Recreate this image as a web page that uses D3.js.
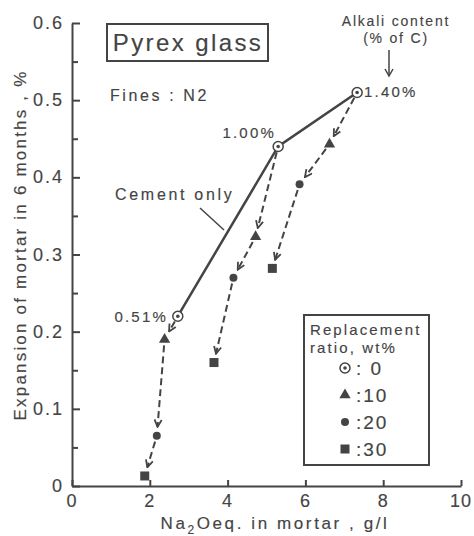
<!DOCTYPE html>
<meta charset="utf-8">
<style>
body { margin:0; background:#fff; }
svg text { font-family:"Liberation Sans", Arial, sans-serif; fill:#444; stroke:#444; stroke-width:0.15; }
.axis path, .axis line { stroke:#444; stroke-width:2; fill:none; }
</style>
<body>
<script src="https://d3js.org/d3.v7.min.js"></script>
<script>

var width = 474,
    height = 536;

// cement only points (alkali content % of C)
var cementX = [2.72, 5.3, 7.33];
var cementY = [0.22, 0.44, 0.51];
var cementLabels = ["0.51%", "1.00%", "1.40%"];

// replacement series, one chain per cement point: 10, 20, 30 wt%
var ratios = [10, 20, 30];
var replX = [[2.38, 2.18, 1.87], [4.72, 4.15, 3.65], [6.62, 5.85, 5.15]];
var replY = [[0.19, 0.065, 0.013], [0.323, 0.27, 0.16], [0.443, 0.391, 0.282]];

var xTicks = [0, 2, 4, 6, 8, 10];
var yTicks = [0, 0.1, 0.2, 0.3, 0.4, 0.5, 0.6];
var yMinor = [0.05, 0.15, 0.25, 0.35, 0.45, 0.55];

var x = d3.scaleLinear().domain([0, 10]).range([72, 461]);
var y = d3.scaleLinear().domain([0, 0.6]).range([486, 23]);

var svg = d3.select("body").append("svg")
    .attr("width", width)
    .attr("height", height);

var ink = "#444";

// axes
svg.append("g").attr("class", "axis")
    .attr("transform", "translate(0," + y(0) + ")")
    .call(d3.axisTop(x).tickValues(xTicks).tickSize(6).tickSizeOuter(0).tickFormat(""));
svg.append("g").attr("class", "axis")
    .attr("transform", "translate(" + x(0) + ",0)")
    .call(d3.axisRight(y).tickValues(yTicks).tickSize(8).tickSizeOuter(0).tickFormat(""));
svg.append("g").attr("class", "axis")
    .attr("transform", "translate(" + x(0) + ",0)")
    .call(d3.axisRight(y).tickValues(yMinor).tickSize(6).tickSizeOuter(0).tickFormat(""))
    .select(".domain").remove();

svg.selectAll(".xlab").data(xTicks).enter().append("text")
    .attr("x", function(d){ return x(d); })
    .attr("y", 507)
    .attr("text-anchor", "middle")
    .attr("font-size", 18)
    .attr("letter-spacing", 1)
    .text(function(d){ return d; });

svg.selectAll(".ylab").data(yTicks).enter().append("text")
    .attr("x", 64)
    .attr("y", function(d){ return y(d) + 6; })
    .attr("text-anchor", "end")
    .attr("font-size", 18)
    .attr("letter-spacing", 2)
    .text(function(d){ return d === 0 ? "0" : d.toFixed(1); });

// axis titles
var xt = svg.append("text")
    .attr("x", 275).attr("y", 529)
    .attr("text-anchor", "middle")
    .attr("font-size", 17)
    .attr("letter-spacing", 2.6);
xt.append("tspan").text("Na");
xt.append("tspan").attr("font-size", 12).attr("dy", 5).text("2");
xt.append("tspan").attr("dy", -5).text("Oeq. in mortar , g/l");

svg.append("text")
    .attr("transform", "translate(26,245) rotate(-90)")
    .attr("text-anchor", "middle")
    .attr("font-size", 17)
    .attr("letter-spacing", 2.2)
    .text("Expansion of mortar in 6 months , %");

// arrow marker
var defs = svg.append("defs");
defs.append("marker")
    .attr("id", "arr")
    .attr("viewBox", "0 0 10 10")
    .attr("refX", 9).attr("refY", 5)
    .attr("markerWidth", 9).attr("markerHeight", 9)
    .attr("markerUnits", "userSpaceOnUse")
    .attr("orient", "auto")
    .append("path")
    .attr("d", "M1,1 L9,5 L1,9")
    .attr("fill", "none")
    .attr("stroke", ink)
    .attr("stroke-width", 2);

// solid cement-only line
var line = d3.line()
    .x(function(d){ return x(d[0]); })
    .y(function(d){ return y(d[1]); });
var cementPts = cementX.map(function(d, i){ return [d, cementY[i]]; });
svg.append("path")
    .attr("d", line(cementPts))
    .attr("fill", "none")
    .attr("stroke", ink)
    .attr("stroke-width", 2.5);

// dashed replacement chains with arrows
cementPts.forEach(function(start, c){
    var pts = [start].concat(replX[c].map(function(d, i){ return [d, replY[c][i]]; }));
    for (var i = 0; i < pts.length - 1; i++) {
        var x0 = x(pts[i][0]), y0 = y(pts[i][1]),
            x1 = x(pts[i+1][0]), y1 = y(pts[i+1][1]);
        var dx = x1 - x0, dy = y1 - y0, len = Math.sqrt(dx*dx + dy*dy);
        var s = 6 / len, e = 9 / len;
        svg.append("line")
            .attr("x1", x0 + dx*s).attr("y1", y0 + dy*s)
            .attr("x2", x1 - dx*e).attr("y2", y1 - dy*e)
            .attr("stroke", ink)
            .attr("stroke-width", 2)
            .attr("stroke-dasharray", "7,4")
            .attr("marker-end", "url(#arr)");
    }
});

// markers
function drawMarker(g, type, cx, cy) {
    if (type === 0) {
        g.append("circle").attr("cx", cx).attr("cy", cy).attr("r", 5)
            .attr("fill", "#fff").attr("stroke", ink).attr("stroke-width", 1.5);
        g.append("circle").attr("cx", cx).attr("cy", cy).attr("r", 1.8).attr("fill", ink);
    } else if (type === 10) {
        g.append("path").attr("transform", "translate(" + cx + "," + cy + ")")
            .attr("d", d3.symbol().type(d3.symbolTriangle).size(55)).attr("fill", ink);
    } else if (type === 20) {
        g.append("circle").attr("cx", cx).attr("cy", cy).attr("r", 4).attr("fill", ink);
    } else {
        g.append("rect").attr("x", cx - 4.5).attr("y", cy - 4.5)
            .attr("width", 9).attr("height", 9).attr("fill", ink);
    }
}

var marks = svg.append("g");
cementPts.forEach(function(p){ drawMarker(marks, 0, x(p[0]), y(p[1])); });
replX.forEach(function(row, c){
    row.forEach(function(d, i){ drawMarker(marks, ratios[i], x(d), y(replY[c][i])); });
});

// point labels
var labelPos = [[168, 322, "end"], [276, 138, "end"], [364, 97, "start"]];
cementLabels.forEach(function(t, i){
    svg.append("text")
        .attr("x", labelPos[i][0]).attr("y", labelPos[i][1])
        .attr("text-anchor", labelPos[i][2])
        .attr("font-size", 15)
        .attr("letter-spacing", 2.2)
        .text(t);
});

// title box
svg.append("rect")
    .attr("x", 107).attr("y", 24).attr("width", 161).attr("height", 37)
    .attr("fill", "none").attr("stroke", ink).attr("stroke-width", 2);
svg.append("text")
    .attr("x", 188).attr("y", 51)
    .attr("text-anchor", "middle")
    .attr("font-size", 24)
    .attr("letter-spacing", 2.4)
    .text("Pyrex glass");

svg.append("text")
    .attr("x", 110).attr("y", 101)
    .attr("font-size", 16)
    .attr("letter-spacing", 2.6)
    .text("Fines : N2");

// alkali content note
svg.append("text")
    .attr("x", 396).attr("y", 26)
    .attr("text-anchor", "middle")
    .attr("font-size", 14)
    .attr("letter-spacing", 1.8)
    .text("Alkali content");
svg.append("text")
    .attr("x", 396).attr("y", 43)
    .attr("text-anchor", "middle")
    .attr("font-size", 14)
    .attr("letter-spacing", 1.8)
    .text("(% of C)");
svg.append("line")
    .attr("x1", 389).attr("y1", 50).attr("x2", 389).attr("y2", 75)
    .attr("stroke", ink).attr("stroke-width", 1.5);
svg.append("path")
    .attr("d", "M385,69 L389,76 L393,69")
    .attr("fill", "none").attr("stroke", ink).attr("stroke-width", 1.5);

// cement only label
svg.append("text")
    .attr("x", 115).attr("y", 200)
    .attr("font-size", 16)
    .attr("letter-spacing", 2.7)
    .text("Cement only");
svg.append("line")
    .attr("x1", 200).attr("y1", 208).attr("x2", 224).attr("y2", 230)
    .attr("stroke", ink).attr("stroke-width", 1.5);

// legend
var lg = svg.append("g");
lg.append("rect")
    .attr("x", 304).attr("y", 315).attr("width", 125).attr("height", 150)
    .attr("fill", "#fff").attr("stroke", ink).attr("stroke-width", 2);
lg.append("text").attr("x", 310).attr("y", 335)
    .attr("font-size", 15).attr("letter-spacing", 2.1).text("Replacement");
lg.append("text").attr("x", 310).attr("y", 353)
    .attr("font-size", 15).attr("letter-spacing", 2.1).text("ratio, wt%");
var legendTypes = [0].concat(ratios);
var legendText = [": 0", ":10", ":20", ":30"];
legendTypes.forEach(function(t, i){
    var ly = 368 + i * 27;
    drawMarker(lg, t, 345, ly);
    lg.append("text").attr("x", 356).attr("y", ly + 7)
        .attr("font-size", 19).attr("letter-spacing", 2).text(legendText[i]);
});

</script>
</body>
